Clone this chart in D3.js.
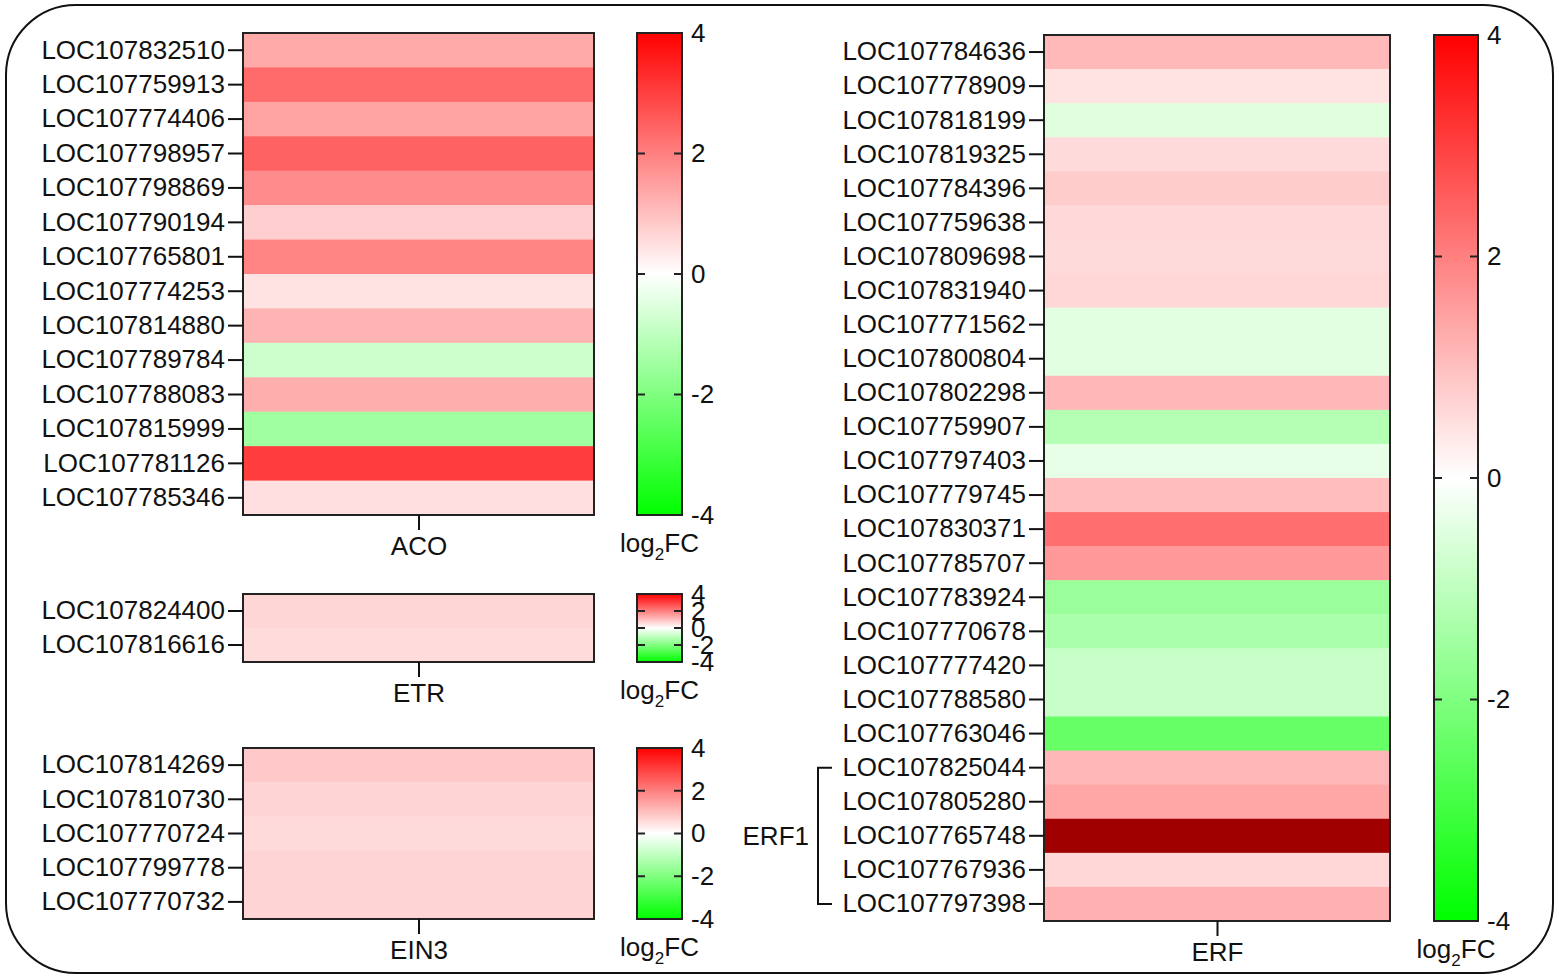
<!DOCTYPE html>
<html>
<head>
<meta charset="utf-8" />
<title>Ethylene pathway heatmaps</title>
<style>
    body { margin: 0; background: #fff; }
    svg text {
        font-family: "Liberation Sans", Arial, sans-serif;
        font-size: 26px;
        fill: #111;
    }
    .axis .domain { display: none; }
    .axis line { stroke: #111; stroke-width: 2; }
</style>
<script src="https://d3js.org/d3.v7.min.js"></script>
</head>
<body>
<script>

// ---- data (log2 fold change) ----
let acoGenes = ["LOC107832510", "LOC107759913", "LOC107774406", "LOC107798957", "LOC107798869",
    "LOC107790194", "LOC107765801", "LOC107774253", "LOC107814880", "LOC107789784",
    "LOC107788083", "LOC107815999", "LOC107781126", "LOC107785346"];
let acoValues = [1.35, 2.34, 1.44, 2.46, 1.8, 0.75, 1.93, 0.45, 1.18, -0.8, 1.27, -1.49, 3.04, 0.5];

let etrGenes = ["LOC107824400", "LOC107816616"];
let etrValues = [0.65, 0.55];

let ein3Genes = ["LOC107814269", "LOC107810730", "LOC107770724", "LOC107799778", "LOC107770732"];
let ein3Values = [0.85, 0.67, 0.58, 0.67, 0.68];

let erfGenes = ["LOC107784636", "LOC107778909", "LOC107818199", "LOC107819325", "LOC107784396",
    "LOC107759638", "LOC107809698", "LOC107831940", "LOC107771562", "LOC107800804",
    "LOC107802298", "LOC107759907", "LOC107797403", "LOC107779745", "LOC107830371",
    "LOC107785707", "LOC107783924", "LOC107770678", "LOC107777420", "LOC107788580",
    "LOC107763046", "LOC107825044", "LOC107805280", "LOC107765748", "LOC107767936",
    "LOC107797398"];
let erfValues = [1.1, 0.44, -0.5, 0.58, 0.8, 0.6, 0.58, 0.63, -0.45, -0.45,
    1.13, -1.18, -0.4, 1.03, 2.26, 1.6, -1.58, -1.33, -0.86, -0.86,
    -2.4, 1.14, 1.4, 5.5, 0.63, 1.24];

// genes grouped under the ERF1 bracket
let erf1Genes = ["LOC107825044", "LOC107805280", "LOC107765748", "LOC107767936", "LOC107797398"];

let colorTicks = [4, 2, 0, -2, -4];

// colour scale: green - white - red, values above the range get dark red
let color = d3.scaleLinear()
    .domain([-4, 0, 4])
    .range(["#00ff00", "#ffffff", "#ff0000"]);
let fill = v => v > 4 ? "#a00000" : color(v);

let svg = d3.select("body")
    .append("svg")
    .attr("width", 1559)
    .attr("height", 979);

// outer rounded frame
svg.append("rect")
    .attr("x", 6).attr("y", 5)
    .attr("width", 1547).attr("height", 968)
    .attr("rx", 70).attr("ry", 70)
    .attr("fill", "none")
    .attr("stroke", "#111")
    .attr("stroke-width", 2);

// gradient for the colour bars
let grad = svg.append("defs").append("linearGradient")
    .attr("id", "lfc")
    .attr("x1", 0).attr("y1", 1).attr("x2", 0).attr("y2", 0);
grad.selectAll("stop")
    .data([-4, 0, 4])
    .enter()
    .append("stop")
    .attr("offset", d => (d + 4) / 8)
    .attr("stop-color", d => color(d));

// one heatmap panel + its colour bar
function panel(p) {
    let y = d3.scaleBand()
        .domain(p.genes)
        .range([p.top, p.bottom]);

    let g = svg.append("g");

    g.selectAll("rect.cell")
        .data(p.values)
        .enter()
        .append("rect")
        .attr("class", "cell")
        .attr("x", p.left)
        .attr("y", (d, i) => y(p.genes[i]))
        .attr("width", p.right - p.left)
        .attr("height", y.bandwidth() + 0.5)
        .attr("fill", d => fill(d));

    g.append("rect")
        .attr("x", p.left).attr("y", p.top)
        .attr("width", p.right - p.left)
        .attr("height", p.bottom - p.top)
        .attr("fill", "none")
        .attr("stroke", "#222")
        .attr("stroke-width", 2);

    // gene labels
    g.append("g")
        .attr("class", "axis")
        .attr("transform", "translate(" + p.left + ",0)")
        .call(d3.axisLeft(y).tickSize(15).tickPadding(3).tickSizeOuter(0));

    // group name underneath
    let x = d3.scalePoint()
        .domain([p.name])
        .range([p.left, p.right])
        .padding(0.5);
    g.append("g")
        .attr("class", "axis")
        .attr("transform", "translate(0," + p.bottom + ")")
        .call(d3.axisBottom(x).tickSize(15).tickPadding(7).tickSizeOuter(0));

    // colour bar
    let cy = d3.scaleLinear()
        .domain([-4, 4])
        .range([p.bottom, p.top]);

    g.append("rect")
        .attr("x", p.barX).attr("y", p.top)
        .attr("width", p.barW)
        .attr("height", p.bottom - p.top)
        .attr("fill", "url(#lfc)")
        .attr("stroke", "#222")
        .attr("stroke-width", 2);

    // little inside ticks on both edges
    let inner = colorTicks.filter(d => d > -4 && d < 4);
    g.selectAll("line.lt")
        .data(inner)
        .enter()
        .append("line")
        .attr("x1", p.barX).attr("x2", p.barX + 8)
        .attr("y1", d => cy(d)).attr("y2", d => cy(d))
        .attr("stroke", "#222").attr("stroke-width", 2);
    g.selectAll("line.rt")
        .data(inner)
        .enter()
        .append("line")
        .attr("x1", p.barX + p.barW - 8).attr("x2", p.barX + p.barW)
        .attr("y1", d => cy(d)).attr("y2", d => cy(d))
        .attr("stroke", "#222").attr("stroke-width", 2);

    g.append("g")
        .attr("class", "axis")
        .attr("transform", "translate(" + (p.barX + p.barW) + ",0)")
        .call(d3.axisRight(cy).tickValues(colorTicks).tickSize(0).tickPadding(9)
            .tickFormat(d => String(d)));

    let lab = g.append("text")
        .attr("x", p.barX + p.barW / 2)
        .attr("y", p.bottom + 37)
        .attr("text-anchor", "middle");
    lab.append("tspan").text("log");
    lab.append("tspan").text("2")
        .attr("dy", 8)
        .style("font-size", "17px");
    lab.append("tspan").text("FC")
        .attr("dy", -8);

    return y;
}

panel({ name: "ACO", genes: acoGenes, values: acoValues,
    left: 243, right: 594, top: 33, bottom: 515, barX: 637, barW: 45 });
panel({ name: "ETR", genes: etrGenes, values: etrValues,
    left: 243, right: 594, top: 594, bottom: 662, barX: 637, barW: 45 });
panel({ name: "EIN3", genes: ein3Genes, values: ein3Values,
    left: 243, right: 594, top: 748, bottom: 919, barX: 637, barW: 45 });
let erfY = panel({ name: "ERF", genes: erfGenes, values: erfValues,
    left: 1044, right: 1390, top: 35, bottom: 921, barX: 1434, barW: 44 });

// ERF1 bracket
let bTop = erfY(erf1Genes[0]) + erfY.bandwidth() / 2,
    bBot = erfY(erf1Genes[erf1Genes.length - 1]) + erfY.bandwidth() / 2,
    bMid = erfY(erf1Genes[2]) + erfY.bandwidth() / 2;

svg.append("path")
    .attr("d", "M832," + bTop + "H818V" + bBot + "H832")
    .attr("fill", "none")
    .attr("stroke", "#111")
    .attr("stroke-width", 2);

svg.append("text")
    .attr("x", 809)
    .attr("y", bMid)
    .attr("dy", "0.35em")
    .attr("text-anchor", "end")
    .text("ERF1");

</script>
</body>
</html>
